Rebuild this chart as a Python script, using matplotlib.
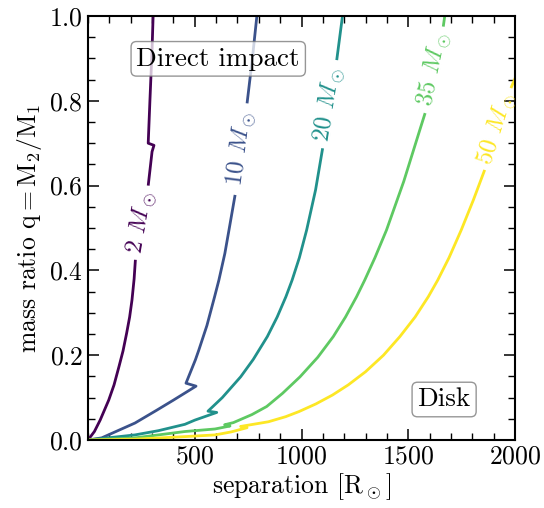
import numpy as np
import matplotlib
matplotlib.use('Agg')
import matplotlib.pyplot as plt
from matplotlib.ticker import MultipleLocator

plt.rcParams.update({
    'font.family': 'serif',
    'font.serif': ['cmr10'],
    'mathtext.fontset': 'cm',
    'axes.formatter.use_mathtext': True,
    'font.size': 18.5,
})

masses = [2, 10, 20, 35, 50]

sep_2 = [0, 30, 57, 97, 122, 145, 164, 181, 195, 206, 216, 222, 282, 300, 309, 282, 290, 300, 305]
q_2 = [0, 0.02, 0.047, 0.094, 0.13, 0.173, 0.21, 0.252, 0.29, 0.33, 0.38, 0.425, 0.60, 0.68, 0.695, 0.70, 0.80, 0.92, 1.0]

sep_10 = [0, 64, 220, 321, 400, 506, 459, 503, 519, 557, 593, 613, 641, 662, 689, 745, 770, 791]
q_10 = [0, 0.005, 0.04, 0.07, 0.094, 0.127, 0.134, 0.189, 0.212, 0.27, 0.338, 0.377, 0.44, 0.5, 0.578, 0.794, 0.9, 1.0]

sep_20 = [0, 220, 330, 454, 501, 603, 562, 629, 715, 774, 840, 886, 927, 956, 990, 1024, 1066, 1099, 1135, 1165, 1192]
q_20 = [0, 0.012, 0.022, 0.037, 0.047, 0.065, 0.068, 0.1, 0.149, 0.19, 0.244, 0.29, 0.338, 0.377, 0.43, 0.495, 0.59, 0.688, 0.79, 0.896, 1.0]

sep_35 = [0, 220, 454, 595, 665, 640, 681, 768, 837, 911, 993, 1076, 1149, 1206, 1258, 1296, 1344, 1398, 1479, 1554, 1579, 1625, 1664, 1671]
q_35 = [0, 0.005, 0.02, 0.026, 0.033, 0.036, 0.041, 0.06, 0.079, 0.11, 0.149, 0.195, 0.244, 0.29, 0.338, 0.377, 0.43, 0.495, 0.61, 0.731, 0.771, 0.87, 0.975, 1.0]

sep_50 = [0, 220, 454, 595, 670, 745, 715, 845, 926, 988, 1067, 1145, 1219, 1300, 1384, 1461, 1532, 1594, 1638, 1691, 1748, 1805, 1858, 1914, 1981, 2040]
q_50 = [0, 0.002, 0.008, 0.012, 0.019, 0.029, 0.032, 0.043, 0.055, 0.067, 0.085, 0.106, 0.13, 0.161, 0.2, 0.244, 0.29, 0.338, 0.377, 0.43, 0.495, 0.566, 0.637, 0.72, 0.83, 0.9]

label_gaps = [(0.425, 0.60), (0.578, 0.794), (0.688, 0.896), (0.771, 0.975), (0.637, 0.83)]

curves = [(sep_2, q_2), (sep_10, q_10), (sep_20, q_20), (sep_35, q_35), (sep_50, q_50)]
colors = plt.cm.viridis(np.linspace(0, 1, len(masses)))

fig = plt.figure(figsize=(5.44, 5.08), dpi=100)
ax = fig.add_axes([88/544, 68/508, 427/544, 424/508])
ax.set_xlim(0, 2000)
ax.set_ylim(0, 1)

for m, (s, q), (lo, hi), c in zip(masses, curves, label_gaps, colors):
    s = np.asarray(s, float)
    q = np.asarray(q, float)
    low = q <= lo + 1e-9
    up = q >= hi - 1e-9
    ax.plot(s[low], q[low], color=c, lw=2.0, solid_capstyle='butt', solid_joinstyle='round')
    ax.plot(s[up], q[up], color=c, lw=2.0, solid_capstyle='butt', solid_joinstyle='round')
    p0 = ax.transData.transform((s[low][-1], q[low][-1]))
    p1 = ax.transData.transform((s[up][0], q[up][0]))
    mid = ax.transData.inverted().transform((p0 + p1) / 2)
    ang = np.degrees(np.arctan2(p1[1] - p0[1], p1[0] - p0[0]))
    if ang > 90:
        ang -= 180
    if ang < -90:
        ang += 180
    ax.text(mid[0], mid[1], r'%d $M_\odot$' % m, color=c, rotation=ang,
            rotation_mode='anchor', ha='center', va='center', fontsize=18,
            clip_on=True)

bbox = dict(boxstyle='round,pad=0.2', facecolor='white', edgecolor='0.45', alpha=0.75, lw=1.0)
ax.text(0.305, 0.899, 'Direct impact', transform=ax.transAxes, ha='center', va='center',
        bbox=bbox, zorder=5, fontsize=19.5)
ax.text(0.834, 0.0955, 'Disk', transform=ax.transAxes, ha='center', va='center',
        bbox=bbox, zorder=5, fontsize=19.5)

ax.set_xticks([500, 1000, 1500, 2000])
ax.xaxis.set_minor_locator(MultipleLocator(100))
ax.yaxis.set_major_locator(MultipleLocator(0.2))
ax.yaxis.set_minor_locator(MultipleLocator(0.05))
ax.tick_params(which='both', direction='in', top=True, right=True)
ax.tick_params(which='major', length=8, width=1.1)
ax.tick_params(which='minor', length=5, width=1.0)
for sp in ax.spines.values():
    sp.set_linewidth(1.5)

ax.set_xlabel(r'separation [$\mathrm{R_\odot}$]', labelpad=2)
ax.set_ylabel(r'mass ratio $\mathrm{q=M_2/M_1}$', labelpad=4)

fig.savefig('out.png', dpi=100)
